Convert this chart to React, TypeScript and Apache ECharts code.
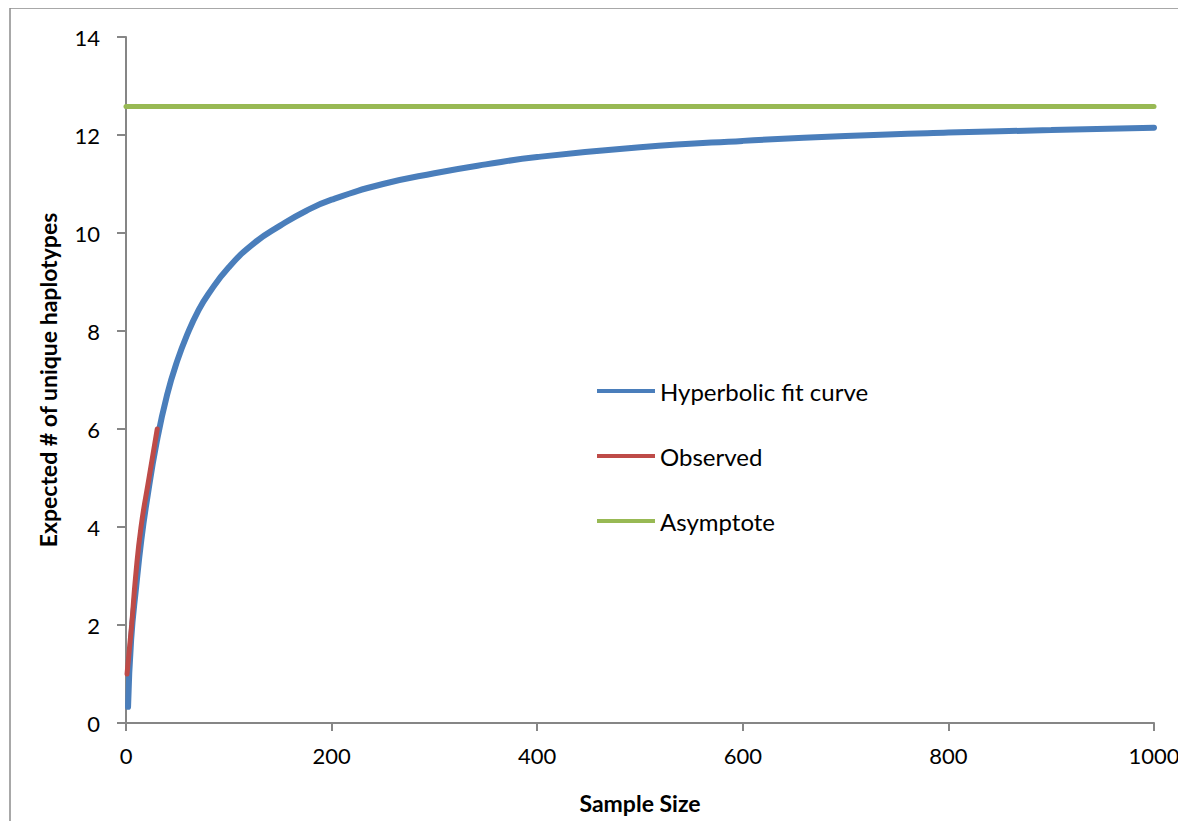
import React, { useEffect, useRef } from "react";
import * as echarts from "echarts";

const fitX = [2, 5, 10, 15, 20, 30, 40, 50, 60, 70, 80, 100, 125, 150, 175, 200, 250, 300, 350, 400, 500, 600, 700, 800, 900, 1000];
const fitY = [0.33, 1.7, 2.8, 3.75, 4.5, 5.75, 6.7, 7.4, 7.95, 8.4, 8.75, 9.3, 9.8, 10.15, 10.45, 10.68, 11.0, 11.22, 11.4, 11.55, 11.75, 11.88, 11.98, 12.05, 12.1, 12.15];
const obsX = [1, 5.5, 9.4, 14.6, 22.4, 30.4];
const obsY = [1, 2, 3, 4, 5, 6];
const asymX = [0, 1000];
const asymY = [12.58, 12.58];
const xTicks = [0, 200, 400, 600, 800, 1000];
const yTicks = [0, 2, 4, 6, 8, 10, 12, 14];

const FONT = "Lato, 'Open Sans', sans-serif";

export default function App() {
  const ref = useRef<HTMLDivElement>(null);
  useEffect(() => {
    if (!ref.current) return;
    const chart = echarts.init(ref.current, null, { renderer: "svg" });
    const zip = (xs: number[], ys: number[]) => xs.map((x, i) => [x, ys[i]]);
    chart.setOption({
      animation: false,
      textStyle: { fontFamily: FONT },
      grid: { left: 126, right: 32, top: 37, bottom: 106 },
      graphic: [
        {
          type: "rect",
          shape: { x: 10, y: 8, width: 1300, height: 1000 },
          style: { fill: "none", stroke: "#8c8c8c", lineWidth: 1.5 },
          silent: true,
          z: -1,
        },
      ],
      legend: {
        orient: "vertical",
        left: 597,
        top: 379,
        padding: 0,
        itemWidth: 58,
        itemHeight: 24,
        itemGap: 41,
        icon: "path://M0,10 L58,10 L58,14 L0,14 Z",
        textStyle: { fontFamily: FONT, fontSize: 24, lineHeight: 24, color: "#000" },
        data: ["Hyperbolic fit curve", "Observed", "Asymptote"],
      },
      xAxis: {
        type: "value",
        min: 0,
        max: 1000,
        interval: 200,
        name: "Sample Size",
        nameLocation: "middle",
        nameGap: 68,
        nameTextStyle: { fontFamily: FONT, fontSize: 23, fontWeight: "bold", color: "#000" },
        axisLine: { show: true, onZero: false, lineStyle: { color: "#868686", width: 2 } },
        axisTick: { show: true, length: 8, lineStyle: { color: "#868686", width: 2 } },
        axisLabel: {
          fontFamily: FONT,
          fontSize: 22,
          color: "#000",
          margin: 21,
          formatter: (v: number) => (xTicks.includes(v) ? String(v) : ""),
        },
        splitLine: { show: false },
      },
      yAxis: {
        type: "value",
        min: 0,
        max: 14,
        interval: 2,
        name: "Expected # of unique haplotypes",
        nameLocation: "middle",
        nameGap: 67,
        nameTextStyle: { fontFamily: FONT, fontSize: 23, fontWeight: "bold", color: "#000" },
        axisLine: { show: true, lineStyle: { color: "#868686", width: 2 } },
        axisTick: { show: true, length: 9, lineStyle: { color: "#868686", width: 2 } },
        axisLabel: {
          fontFamily: FONT,
          fontSize: 22,
          color: "#000",
          margin: 26,
          formatter: (v: number) => (yTicks.includes(v) ? String(v) : ""),
        },
        splitLine: { show: false },
      },
      series: [
        {
          name: "Hyperbolic fit curve",
          type: "line",
          data: zip(fitX, fitY),
          smooth: true,
          showSymbol: false,
          symbol: "none",
          lineStyle: { color: "#4a7ebb", width: 6, cap: "round" },
          itemStyle: { color: "#4a7ebb" },
          z: 2,
        },
        {
          name: "Observed",
          type: "line",
          data: zip(obsX, obsY),
          smooth: true,
          showSymbol: false,
          symbol: "none",
          lineStyle: { color: "#be4b48", width: 5, cap: "round" },
          itemStyle: { color: "#be4b48" },
          z: 3,
        },
        {
          name: "Asymptote",
          type: "line",
          data: zip(asymX, asymY),
          showSymbol: false,
          symbol: "none",
          lineStyle: { color: "#98b954", width: 5, cap: "round" },
          itemStyle: { color: "#98b954" },
          z: 2,
        },
      ],
    });
    return () => chart.dispose();
  }, []);
  return <div ref={ref} style={{ width: 1186, height: 829, margin: -8 }} />;
}
